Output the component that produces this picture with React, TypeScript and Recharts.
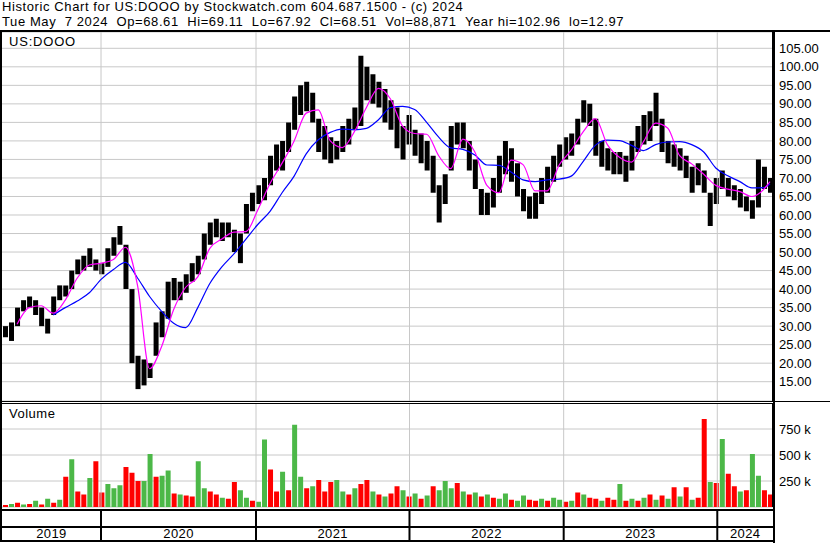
import React from 'react'
import {
  ComposedChart,
  Bar,
  Line,
  XAxis,
  YAxis,
  CartesianGrid,
  ReferenceLine,
  Cell,
} from 'recharts'

// bi-weekly bars, May 2019 .. May 2024
const highs = [
  30, 31, 35, 37, 38, 37, 35, 32, 38, 41,
  41, 45, 48, 49, 51, 48, 47, 51, 54, 57,
  52, 40, 22, 21, 20, 31, 34, 42, 43, 42,
  44, 47, 49, 55, 58, 59, 58, 58, 56, 55,
  63, 66, 68, 70, 76, 79, 80, 85, 92, 95,
  96, 93, 86, 84, 81, 80, 84, 86, 89, 103,
  100, 98, 96, 94, 91, 89, 84, 87, 83, 82,
  80, 76, 68, 71, 84, 85, 85, 80, 75, 67,
  66, 70, 76, 80, 78, 74, 67, 65, 66, 70,
  73, 76, 79, 81, 82, 86, 91, 90, 86, 80,
  78, 77, 77, 76, 80, 84, 87, 88, 93, 86,
  80, 79, 78, 76, 73, 74, 72, 66, 70, 72,
  70, 68, 67, 65, 64, 75, 73, 70,
]
const lows = [
  27, 26, 30, 34, 35, 33, 30, 28, 33, 37,
  38, 40, 44, 45, 46, 45, 44, 46, 49, 52,
  40, 20, 13, 14, 16, 22, 27, 32, 37, 37,
  39, 42, 44, 48, 52, 54, 53, 54, 50, 47,
  55, 61, 63, 64, 68, 72, 72, 77, 83, 87,
  88, 85, 77, 75, 74, 75, 77, 79, 83, 84,
  91, 90, 89, 85, 83, 78, 75, 79, 76, 74,
  72, 66, 58, 63, 72, 79, 78, 72, 67, 60,
  60, 62, 66, 71, 69, 65, 61, 59, 59, 63,
  66, 69, 73, 75, 76, 79, 85, 84, 76, 73,
  72, 71, 71, 69, 72, 77, 79, 80, 84, 77,
  74, 73, 72, 70, 66, 68, 66, 57, 63, 67,
  65, 64, 62, 61, 59, 62, 67, 66,
]

// moving averages, every second bar (last entry = final bar)
const maShort = [
  null, 30.5, 35, 35.5, 33.5, 37, 43, 46.5, 47, 48,
  51.3, 41, 18.5, 24.5, 34.5, 40.5, 43.3, 51, 53.5, 55.4,
  55.5, 61.5, 68.5, 74, 80, 87.5, 88.4, 80, 78.2, 82.5,
  89, 94.2, 91.3, 84, 82, 81.8, 76, 72.5, 80.5, 77,
  68, 66, 74.8, 73.6, 66.5, 66.5, 73.5, 77.5, 82.5, 86,
  79, 75.6, 74.3, 79.8, 84.8, 83.5, 76, 73.8, 71, 68,
  67, 66.3, 65, 67, 69,
]
const maLong = [
  null, null, null, null, 33, 35, 36.8, 39, 42.7, 45.3,
  47.2, 43, 38, 34, 30.8, 29.6, 35, 41.5, 46, 49.5,
  53.5, 57.5, 61, 66, 70.5, 76.5, 80.3, 82.3, 83.2, 83,
  83.4, 85.7, 89, 89.3, 88.5, 85, 81, 78.1, 77.7, 76.2,
  73.5, 73.4, 71.6, 69.5, 69, 69.5, 69.7, 70.5, 74.5, 78.8,
  80.2, 80.1, 78.8, 77.4, 79, 79.7, 79.8, 79, 77, 72.7,
  70.6, 69, 67.3, 67.4, 68.4,
]

// volume in thousands, u = up, d = down
const volumes = [
  20, 30, 40, 25, 30, 60, 25, 80, 40, 70,
  290, 460, 150, 120, 280, 440, 140, 220, 180, 210,
  385, 330, 250, 250, 510, 290, 300, 350, 130, 120,
  110, 100, 440, 180, 150, 120, 90, 80, 240, 160,
  90, 60, 50, 650, 360, 150, 340, 160, 790, 290,
  180, 200, 260, 150, 240, 260, 150, 120, 180, 220,
  260, 150, 120, 100, 130, 200, 160, 100, 130, 80,
  110, 200, 160, 250, 180, 230, 150, 120, 140, 100,
  120, 90, 80, 130, 70, 60, 110, 70, 60, 80,
  60, 90, 70, 50, 60, 140, 120, 90, 80, 60,
  90, 70, 220, 60, 80, 60, 90, 120, 70, 110,
  80, 190, 100, 190, 70, 90, 846, 240, 230, 655,
  320, 200, 150, 160, 510, 300, 160, 120,
]
const moves = (
  'dududududu duddudduuu ddduuduudu dduudduddu uduudduduu ' +
  'duddduudud dududdudud uduuududud uduuduuddu duudududdu ' +
  'ddudududud udududdudu dduduudd'
).replace(/ /g, '')

const yearStarts = [15.94, 41.67, 67.15, 92.75, 118.25]
const yearLabels = ['2019', '2020', '2021', '2022', '2023', '2024']
const priceTicks = [15, 20, 25, 30, 35, 40, 45, 50, 55, 60, 65, 70, 75, 80, 85, 90, 95, 100, 105]
const volumeTicks = [250, 500, 750]

const FONT = '"Liberation Sans", Arial, sans-serif'
const GRID = '#c8c8c8'

const xDomain = [-0.5, highs.length - 0.5]

function spread(list: (number | null)[]) {
  const out: (number | null)[] = highs.map(() => null)
  list.forEach((v, k) => {
    out[Math.min(k * 2, highs.length - 1)] = v
  })
  return out
}

const shortLine = spread(maShort)
const longLine = spread(maLong)

const priceRows = highs.map((hi, i) => ({
  i,
  range: [lows[i], hi],
  short: shortLine[i],
  long: longLine[i],
}))

const volumeRows = volumes.map((v, i) => ({ i, vol: v, move: moves[i] }))

const bounds = [xDomain[0], ...yearStarts, xDomain[1]]
const labelAt = yearLabels.map((_, k) => (bounds[k] + bounds[k + 1]) / 2)
const axisTicks = [...yearStarts, ...labelAt].sort((a, b) => a - b)

function StripTick(props: any) {
  const { x, y, payload } = props
  const k = labelAt.indexOf(payload.value)
  if (k >= 0) {
    return (
      <text x={x} y={y + 31} textAnchor="middle" fontSize={13} fontFamily={FONT} fill="#000" letterSpacing={0.4}>
        {yearLabels[k]}
      </text>
    )
  }
  return <line x1={x} x2={x} y1={y + 3} y2={y + 34} stroke="#000" strokeWidth={2} />
}

function PriceChart() {
  return (
    <ComposedChart width={830} height={369} data={priceRows} margin={{ top: 0, right: 0, bottom: 0, left: 2 }}>
      <CartesianGrid vertical={false} stroke={GRID} />
      {yearStarts.map((t) => (
        <ReferenceLine key={t} x={t} stroke={GRID} />
      ))}
      <XAxis type="number" dataKey="i" domain={xDomain} hide />
      <YAxis
        orientation="right"
        width={57}
        domain={[9.79, 109.4]}
        allowDataOverflow
        ticks={priceTicks}
        interval={0}
        tickFormatter={(v: number) => v.toFixed(2)}
        tickLine={false}
        tickSize={6}
        tickMargin={0}
        axisLine={{ stroke: '#000', strokeWidth: 2 }}
        tick={{ fill: '#000', fontSize: 13, fontFamily: FONT, textAnchor: 'start' }}
      />
      <Bar dataKey="range" fill="#000" barSize={5} isAnimationActive={false} />
      <Line type="monotone" dataKey="long" stroke="#0000ff" strokeWidth={1.2} dot={false} connectNulls isAnimationActive={false} />
      <Line type="monotone" dataKey="short" stroke="#ff00ff" strokeWidth={1.2} dot={false} connectNulls isAnimationActive={false} />
    </ComposedChart>
  )
}

function VolumeChart() {
  return (
    <ComposedChart width={830} height={140} data={volumeRows} margin={{ top: 0, right: 0, bottom: 0, left: 2 }}>
      <CartesianGrid vertical={false} stroke={GRID} />
      {yearStarts.map((t) => (
        <ReferenceLine key={t} x={t} stroke={GRID} />
      ))}
      <XAxis
        type="number"
        dataKey="i"
        domain={xDomain}
        ticks={axisTicks}
        interval={0}
        height={36}
        tickSize={0}
        tickMargin={0}
        axisLine={false}
        tickLine={false}
        tick={<StripTick />}
      />
      <YAxis
        orientation="right"
        width={57}
        domain={[0, 1000]}
        allowDataOverflow
        ticks={volumeTicks}
        interval={0}
        tickFormatter={(v: number) => `${v} k`}
        tickLine={false}
        tickSize={6}
        tickMargin={0}
        axisLine={{ stroke: '#000', strokeWidth: 2 }}
        tick={{ fill: '#000', fontSize: 13, fontFamily: FONT, textAnchor: 'start' }}
      />
      <Bar dataKey="vol" barSize={5} isAnimationActive={false}>
        {volumeRows.map((r) => (
          <Cell key={r.i} fill={r.move === 'u' ? '#4cb848' : r.move === 'd' ? '#ff0000' : '#a0a0a0'} />
        ))}
      </Bar>
    </ComposedChart>
  )
}

const rule = (left: number, top: number, width: number, height: number) => (
  <div style={{ position: 'absolute', left, top, width, height, background: '#000' }} />
)

export default function App() {
  return (
    <div
      style={{
        position: 'absolute',
        left: 0,
        top: 0,
        width: 830,
        height: 543,
        background: '#fff',
        overflow: 'hidden',
        fontFamily: FONT,
        color: '#000',
      }}
    >
      <div
        style={{
          position: 'absolute',
          left: 2,
          top: 0,
          fontSize: 13,
          lineHeight: '14.7px',
          letterSpacing: 0.6,
          whiteSpace: 'pre',
        }}
      >
        {'Historic Chart for US:DOOO by Stockwatch.com 604.687.1500 - (c) 2024\n'}
        {'Tue May  7 2024  Op=68.61  Hi=69.11  Lo=67.92  Cl=68.51  Vol=88,871  Year hi=102.96  lo=12.97'}
      </div>
      <div style={{ position: 'absolute', left: 0, top: 32 }}>
        <PriceChart />
      </div>
      <div style={{ position: 'absolute', left: 0, top: 403 }}>
        <VolumeChart />
      </div>
      <div style={{ position: 'absolute', left: 9, top: 35, fontSize: 13, lineHeight: '13px', letterSpacing: 0.8 }}>
        US:DOOO
      </div>
      <div style={{ position: 'absolute', left: 9, top: 407, fontSize: 13, lineHeight: '13px', letterSpacing: 0.5 }}>
        Volume
      </div>
      {rule(0, 30, 830, 2)}
      {rule(0, 401, 830, 1)}
      {rule(0, 403, 773, 1)}
      {rule(0, 509, 773, 2)}
      {rule(0, 526, 773, 2)}
      {rule(0, 540, 773, 2)}
      {rule(0, 30, 2, 512)}
      {rule(773, 30, 2, 513)}
    </div>
  )
}
